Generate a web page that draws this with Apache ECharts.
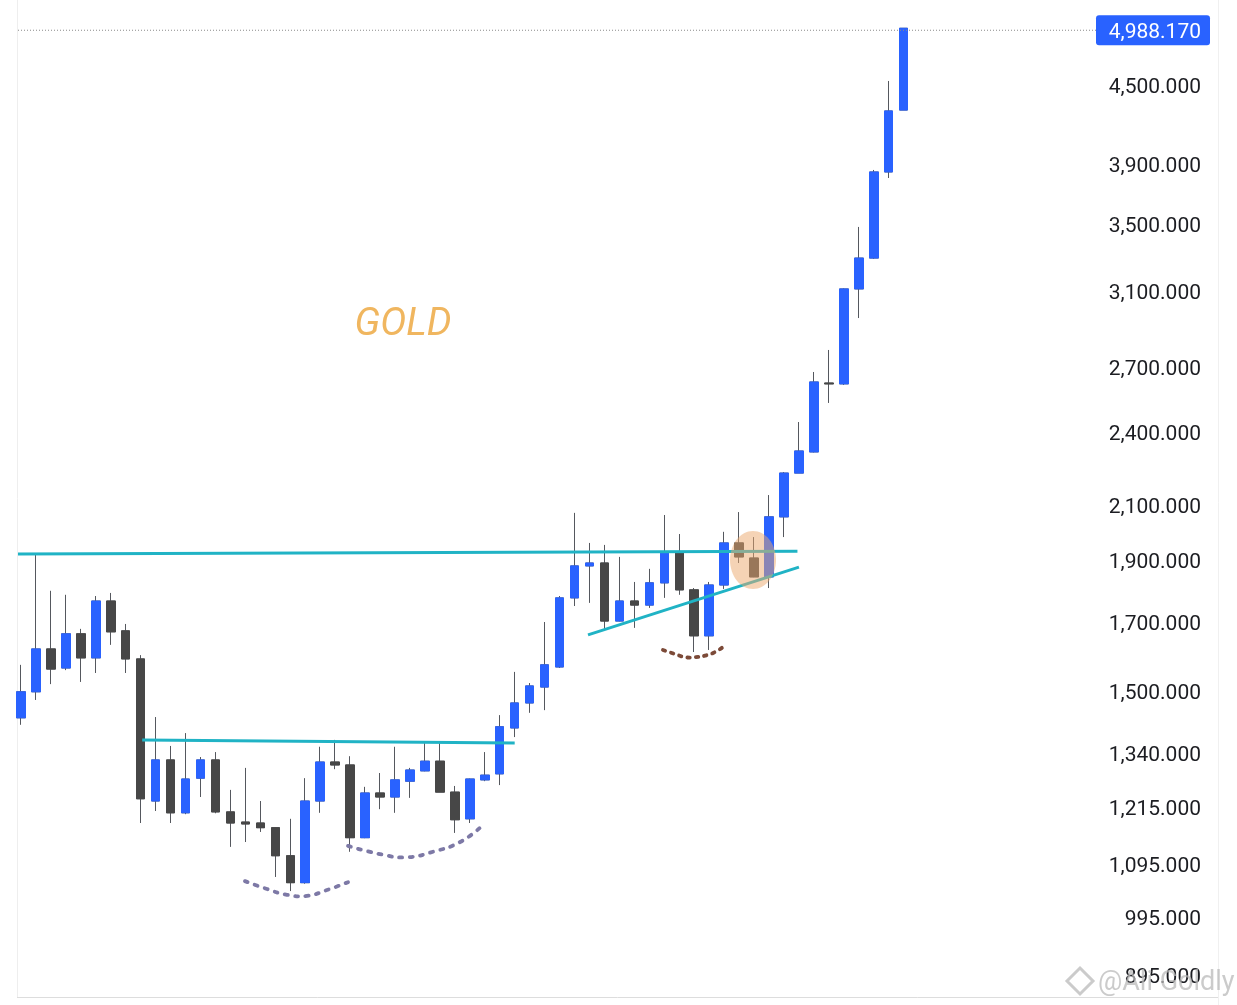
<!DOCTYPE html>
<html><head><meta charset="utf-8">
<script src="https://cdn.jsdelivr.net/npm/echarts@6/dist/echarts.min.js"></script>
<style>html,body{margin:0;padding:0;background:#fff;}#c{width:1237px;height:1005px;}</style>
</head><body><div id="c"></div>
<script>
// Quarterly gold candles
const opens  = [1427,1496,1617,1562,1662,1591,1764,1671,1588,1227,1322,1201,1279,1322,1203,1181,1179,1169,1111,1058,
                1227,1317,1310,1148,1245,1236,1272,1296,1319,1247,1188,1275,1289,1401,1466,1509,1565,1774,1880,1890,
                1701,1764,1751,1823,1928,1800,1656,1816,1960,1907,1843,2055,2225,2312,2620,2616,3108,3287,3843,4300];
const closes = [1496,1617,1559,1662,1591,1764,1668,1588,1232,1322,1201,1277,1322,1203,1179,1177,1169,1111,1058,1227,
                1317,1310,1148,1245,1236,1275,1298,1319,1247,1186,1277,1286,1404,1466,1512,1571,1774,1880,1890,1701,
                1764,1751,1823,1928,1800,1656,1816,1960,1911,1843,2055,2225,2316,2625,2616,3108,3287,3843,4293,4988.17];
const lows   = [1409,1474,1517,1556,1523,1548,1629,1548,1179,1205,1179,1198,1236,1200,1129,1139,1160,1069,1042,1056,
                1201,1300,1119,1147,1209,1201,1234,1295,1247,1158,1179,1272,1263,1378,1440,1447,1562,1748,1758,1674,
                1700,1680,1742,1774,1784,1608,1614,1803,1890,1842,1806,1981,2225,2310,2527,2611,2948,3282,3801,4300];
const highs  = [1571,1918,1797,1784,1677,1780,1790,1692,1599,1429,1356,1388,1329,1341,1252,1303,1227,1170,1188,1279,
                1354,1371,1331,1259,1291,1354,1303,1363,1363,1261,1278,1341,1434,1551,1520,1698,1780,2070,1960,1953,
                1911,1826,1870,2062,1992,1806,1826,2000,2073,1981,2138,2229,2441,2673,2782,3111,3478,3857,4533,4988.17];
const tickValues = [4500,3900,3500,3100,2700,2400,2100,1900,1700,1500,1340,1215,1095,995,895];
const lastPrice = 4988.17;

// Hand-drawn annotations in data coordinates [candle index, price]
const trendLines = [
  [[-0.2,1921],[51.9,1931]],
  [[8.1,1371],[33.0,1363]],
  [[37.9,1659],[52.0,1876]]
];
const arcPurple1 = [[14.97,1061],[16.44,1046],[17.78,1035],[19.12,1033],[20.45,1044],[21.86,1059]];
const arcPurple2 = [[21.86,1131],[24.2,1113],[25.8,1108],[27.54,1119],[29.35,1139],[30.82,1173]];
const arcBrown   = [[42.91,1614],[43.72,1602],[44.39,1593],[45.05,1593],[45.86,1599],[46.52,1611],[46.93,1623]];
const circleAt   = [48.93,1900];

const BLUE='#2962FF', DARK='#474747', WICK='#55585e';
const fmt = v => v.toLocaleString('en-US',{minimumFractionDigits:3,maximumFractionDigits:3});
const full   = opens.map((o,i)=>[i,o,closes[i],lows[i],highs[i]]);
const bodies = opens.map((o,i)=>[i,o,closes[i],Math.min(o,closes[i]),Math.max(o,closes[i])]);

const chart = echarts.init(document.getElementById('c'));
const dims = ['x','open','close','lowest','highest'];
chart.setOption({
  animation:false,
  backgroundColor:'#ffffff',
  grid:{left:18,top:0,width:1200,height:997},
  xAxis:{type:'value',min:-0.2,max:80.01,show:false},
  yAxis:{type:'log',logBase:10,min:859.75,max:5250.6,position:'right',show:false},
  series:[
    {type:'candlestick',data:full,dimensions:dims,encode:{x:'x',y:['open','close','lowest','highest']},
     barWidth:9,itemStyle:{color:WICK,color0:WICK,borderColor:WICK,borderColor0:WICK,borderWidth:1}},
    {type:'candlestick',data:bodies,dimensions:dims,encode:{x:'x',y:['open','close','lowest','highest']},
     barWidth:9,itemStyle:{color:BLUE,color0:DARK,borderColor:BLUE,borderColor0:DARK,borderWidth:1}}
  ]
});

const px = p => chart.convertToPixel({gridIndex:0}, p);
const g = [];
// frame
g.push({type:'line',z:1,shape:{x1:17.5,y1:0,x2:17.5,y2:997},style:{stroke:'#eeeeee',lineWidth:1}});
g.push({type:'line',z:1,shape:{x1:17,y1:997.5,x2:1218,y2:997.5},style:{stroke:'#dddddd',lineWidth:1}});
g.push({type:'line',z:1,shape:{x1:1218.5,y1:0,x2:1218.5,y2:1005},style:{stroke:'#f0f0f0',lineWidth:1}});
// trend lines
trendLines.forEach(l=>{
  const a=px(l[0]), b=px(l[1]);
  g.push({type:'line',z:20,shape:{x1:a[0],y1:a[1],x2:b[0],y2:b[1]},style:{stroke:'#20b3c5',lineWidth:3}});
});
// dotted arcs
const arc=(pts,color,dash,w)=>g.push({type:'polyline',z:20,shape:{points:pts.map(px),smooth:0.5},
  style:{stroke:color,lineWidth:w,lineDash:dash,lineCap:'round',fill:null}});
arc(arcPurple1,'#7d79a6',[3,7.5],3.8);
arc(arcPurple2,'#7d79a6',[3,7.5],3.8);
arc(arcBrown,'#7c4a38',[2.5,6],3.8);
// highlight ellipse
const cc=px(circleAt);
g.push({type:'ellipse',z:30,shape:{cx:cc[0],cy:cc[1],rx:23,ry:29},style:{fill:'rgba(236,168,108,0.5)'}});
// title
g.push({type:'text',z:30,x:403,y:325,style:{text:'GOLD',fontFamily:'Roboto',fontStyle:'italic',fontSize:39,
  fill:'#f0b65f',align:'center',verticalAlign:'middle'}});
// y-axis labels
tickValues.forEach(v=>{
  const y=px([0,v])[1];
  g.push({type:'text',z:25,x:1201,y:y+3,style:{text:fmt(v),fontFamily:'Roboto',fontSize:21,fill:'#1c1d22',
    align:'right',verticalAlign:'middle'}});
});
// last price line + tag
const ly=px([0,lastPrice])[1];
g.push({type:'line',z:24,shape:{x1:18,y1:ly+2,x2:1096,y2:ly+2},style:{stroke:'#8a8a8a',lineWidth:1,lineDash:[1,2]}});
g.push({type:'rect',z:26,shape:{x:1096,y:ly-13,width:114,height:30,r:3},style:{fill:BLUE}});
g.push({type:'text',z:27,x:1201,y:ly+4,style:{text:fmt(lastPrice),fontFamily:'Roboto',fontSize:21,fill:'#ffffff',
  align:'right',verticalAlign:'middle'}});
// watermark
g.push({type:'polygon',z:40,shape:{points:[[1080,968],[1093,981],[1080,994],[1067,981]]},
  style:{fill:null,stroke:'rgba(190,190,190,0.8)',lineWidth:3}});
g.push({type:'text',z:40,x:1098,y:983,style:{text:'@Ali Goldly',fontFamily:'Roboto',fontSize:27,
  fill:'rgba(185,185,185,0.75)',align:'left',verticalAlign:'middle'}});
chart.setOption({graphic:{elements:g}});
</script></body></html>
